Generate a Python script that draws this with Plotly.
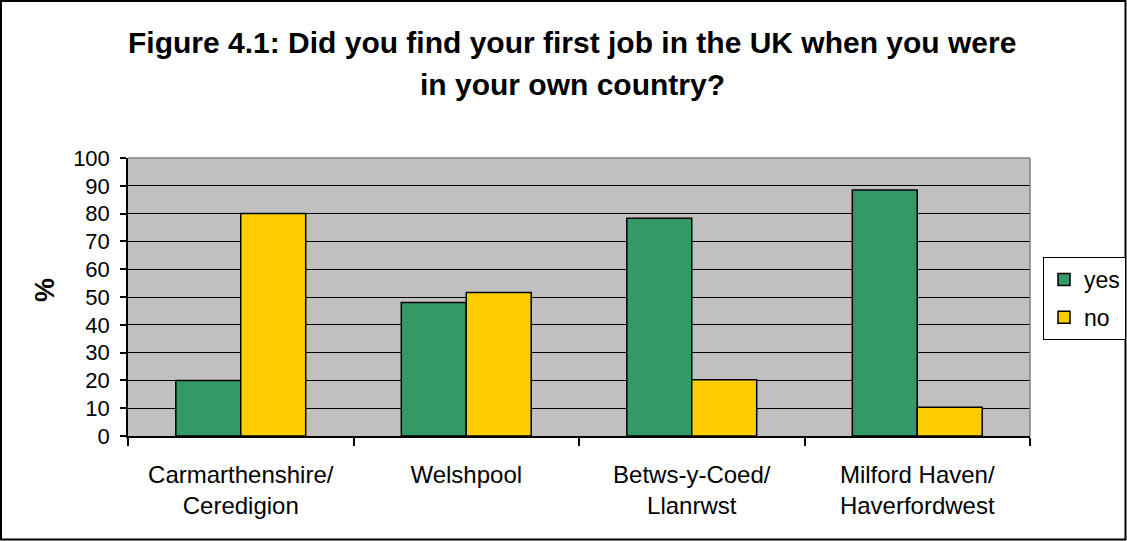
import plotly.graph_objects as go

# Survey results: share of respondents (%) per area
areas = [
    "Carmarthenshire/<br>Ceredigion",
    "Welshpool",
    "Betws-y-Coed/<br>Llanrwst",
    "Milford Haven/<br>Haverfordwest",
]
yes_pct = [20, 48, 78.3, 88.5]
no_pct = [80, 51.6, 20.2, 10.3]

W, H = 1127, 541
ML, MR, MT, MB = 128, 97, 158, 105
PW, PH = W - ML - MR, H - MT - MB


def px_x(x):
    return (x - ML) / PW


def px_y(y):
    return (H - MB - y) / PH


FONT = "Arial, Liberation Sans, sans-serif"

fig = go.Figure()
fig.add_trace(go.Bar(
    name="yes", x=areas, y=yes_pct, legendgroup="yes",
    marker=dict(color="#339966", line=dict(color="black", width=1.5)),
))
fig.add_trace(go.Bar(
    name="no", x=areas, y=no_pct, legendgroup="no",
    marker=dict(color="#FFCC00", line=dict(color="black", width=1.5)),
))

fig.update_layout(
    width=W, height=H,
    margin=dict(l=ML, r=MR, t=MT, b=MB, autoexpand=False),
    paper_bgcolor="white",
    plot_bgcolor="#C0C0C0",
    barmode="group",
    bargap=0.424,
    bargroupgap=0,
    font=dict(family=FONT, color="black"),
    showlegend=True,
    legend=dict(
        x=px_x(1043), y=px_y(257), xanchor="left", yanchor="top",
        bgcolor="white", bordercolor="black", borderwidth=1,
        font=dict(size=23, family=FONT, color="black"),
        itemwidth=30, tracegroupgap=5, traceorder="grouped",
    ),
    xaxis=dict(
        type="category",
        tickson="boundaries",
        ticks="outside", ticklen=8, tickcolor="black", tickwidth=1.5,
        showline=True, linecolor="black", linewidth=1.5,
        showgrid=False,
        tickfont=dict(size=24, family=FONT, color="black"),
        ticklabelstandoff=16,
    ),
    yaxis=dict(
        range=[0, 100], dtick=10,
        ticks="outside", ticklen=6, tickcolor="black", tickwidth=1.5,
        showline=True, linecolor="black", linewidth=1.5,
        showgrid=True, gridcolor="black", gridwidth=1,
        zeroline=False,
        tickfont=dict(size=22, family=FONT, color="black"),
        ticklabelstandoff=6,
    ),
    annotations=[
        dict(text="<b>Figure 4.1: Did you find your first job in the UK when you were</b>",
             x=px_x(572), y=px_y(43), xref="paper", yref="paper",
             xanchor="center", yanchor="middle", showarrow=False,
             font=dict(size=30, family=FONT, color="black")),
        dict(text="<b>in your own country?</b>",
             x=px_x(572), y=px_y(84), xref="paper", yref="paper",
             xanchor="center", yanchor="middle", showarrow=False,
             font=dict(size=30, family=FONT, color="black")),
        dict(text="<b>%</b>", textangle=-90,
             x=px_x(45), y=px_y(290), xref="paper", yref="paper",
             xanchor="center", yanchor="middle", showarrow=False,
             font=dict(size=27, family=FONT, color="black")),
    ],
    shapes=[
        # grey top and right edges of the plot area
        dict(type="line", xref="paper", yref="paper", x0=0, x1=1, y0=1, y1=1,
             line=dict(color="#808080", width=1.5)),
        dict(type="line", xref="paper", yref="paper", x0=1, x1=1, y0=0, y1=1,
             line=dict(color="#808080", width=1.5)),
        # frame around the whole chart
        dict(type="rect", xref="paper", yref="paper",
             x0=px_x(1), x1=px_x(W - 1.5), y0=px_y(1), y1=px_y(H - 1.5),
             line=dict(color="black", width=2), layer="above"),
    ],
)

fig.write_html("out.html")
